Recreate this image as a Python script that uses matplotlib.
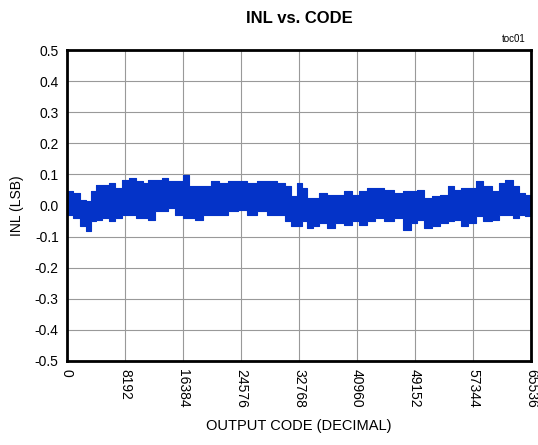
import matplotlib
matplotlib.use("Agg")
import matplotlib.pyplot as plt

plt.rcParams["font.family"] = ["Liberation Sans Narrow", "Liberation Sans", "DejaVu Sans"]

codes = [0, 282, 1412, 2401, 3107, 3813, 4520, 5508, 6356, 7344, 8333, 9181,
         10452, 11017, 12005, 12994, 13841, 14830, 15819, 16949, 17655, 18643,
         19773, 20903, 22033, 23446, 24858, 26129, 27542, 28954, 30367, 31214,
         32203, 32909, 33615, 34321, 35169, 36158, 37288, 38559, 39688, 40818,
         41807, 42937, 44067, 45479, 46892, 48163, 49010, 49999, 50988, 52118,
         53248, 54237, 55084, 56073, 57203, 58191, 59321, 60592, 61439, 62428,
         63417, 64264, 65252, 65535]

# upper / lower edge of the INL trace (LSB)
inl_max = [0.040, 0.046, 0.040, 0.019, 0.015, 0.047, 0.067, 0.067, 0.072, 0.056,
           0.083, 0.088, 0.079, 0.072, 0.083, 0.083, 0.088, 0.079, 0.079, 0.098,
           0.063, 0.063, 0.063, 0.079, 0.072, 0.079, 0.079, 0.072, 0.079, 0.079,
           0.072, 0.063, 0.030, 0.072, 0.056, 0.024, 0.024, 0.040, 0.035, 0.035,
           0.046, 0.035, 0.046, 0.056, 0.056, 0.051, 0.040, 0.046, 0.046, 0.051,
           0.024, 0.030, 0.035, 0.063, 0.051, 0.056, 0.056, 0.079, 0.063, 0.046,
           0.072, 0.083, 0.063, 0.040, 0.035, 0.030]
inl_min = [-0.020, -0.030, -0.040, -0.066, -0.082, -0.050, -0.046, -0.040, -0.050, -0.040,
           -0.030, -0.030, -0.040, -0.040, -0.046, -0.018, -0.018, -0.008, -0.030, -0.040,
           -0.040, -0.046, -0.030, -0.030, -0.030, -0.018, -0.013, -0.030, -0.018, -0.030,
           -0.030, -0.050, -0.066, -0.066, -0.050, -0.072, -0.066, -0.056, -0.072, -0.056,
           -0.062, -0.050, -0.062, -0.050, -0.040, -0.050, -0.040, -0.078, -0.056, -0.046,
           -0.072, -0.066, -0.056, -0.050, -0.046, -0.066, -0.056, -0.034, -0.050, -0.046,
           -0.030, -0.030, -0.040, -0.030, -0.034, -0.030]

xticks = [0, 8192, 16384, 24576, 32768, 40960, 49152, 57344, 65536]
yticks = [-0.5, -0.4, -0.3, -0.2, -0.1, 0.0, 0.1, 0.2, 0.3, 0.4, 0.5]

blue = "#0433C8"

fig = plt.figure(figsize=(5.38, 4.45), dpi=100)
ax = fig.add_axes([0.1245, 0.1888, 0.8625, 0.6988])

# dense trace drawn as its envelope, jagged like the raw data
ax.fill_between(codes, inl_min, inl_max, step="mid", color=blue, lw=0)
ax.step(codes, inl_max, where="mid", color=blue, lw=0.8)
ax.step(codes, inl_min, where="mid", color=blue, lw=0.8)

ax.set_xlim(0, 65536)
ax.set_ylim(-0.5, 0.5)
ax.set_xticks(xticks)
ax.set_xticklabels([str(t) for t in xticks], rotation=270, fontsize=10)
ax.set_yticks(yticks)
ax.set_yticklabels(["%.1f" % t for t in yticks], fontsize=10)
ax.tick_params(length=0, pad=6)
ax.grid(True, color="#999999", lw=0.8)
ax.set_axisbelow(True)
for s in ax.spines.values():
    s.set_linewidth(2)
    s.set_color("black")

ax.set_xlabel("OUTPUT CODE (DECIMAL)", fontsize=10.5, labelpad=8)
ax.set_ylabel("INL (LSB)", fontsize=10, labelpad=8)

fig.text(0.556, 0.958, "INL vs. CODE", ha="center", va="center",
         fontsize=12, fontweight="bold")
fig.text(0.977, 0.912, "toc01", ha="right", va="center", fontsize=7)

fig.savefig("out.png", dpi=100)
